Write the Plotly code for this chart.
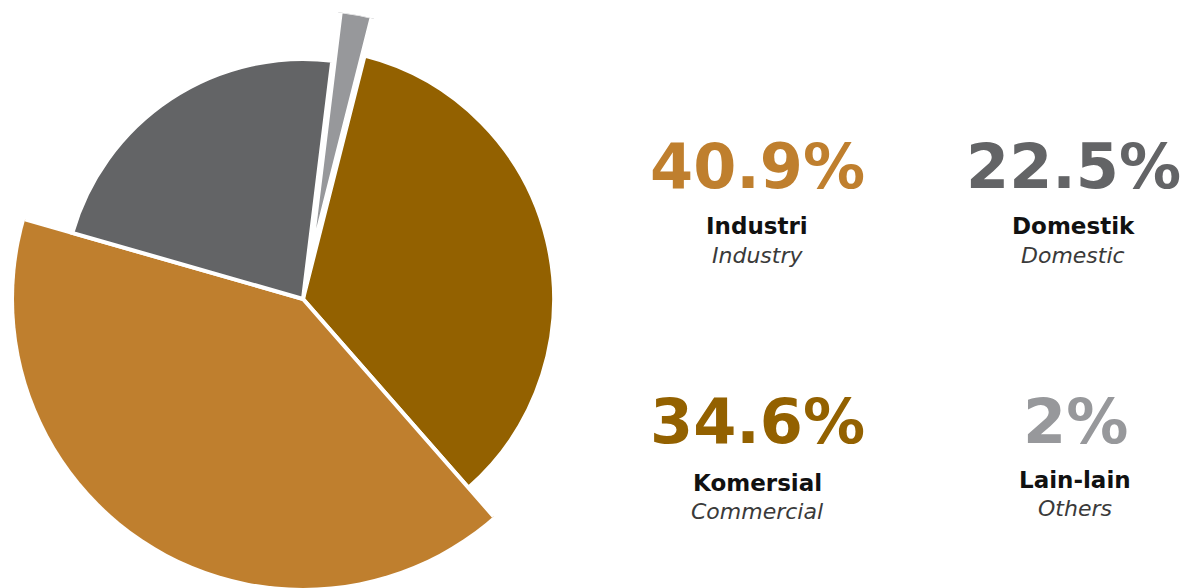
import numpy as np
import plotly.graph_objects as go

# Sector shares (percent)
sectors_id = ["Industri", "Komersial", "Domestik", "Lain-lain"]
sectors_en = ["Industry", "Commercial", "Domestic", "Others"]
shares = [40.9, 34.6, 22.5, 2]

colors = {
    "Industri": "#BF7F2E",
    "Komersial": "#936100",
    "Domestik": "#636466",
    "Lain-lain": "#97989B",
}

# Outer radius of each wedge (px on the radial axis) and the white separator width
wedge_radius = {"Industri": 292, "Komersial": 251, "Domestik": 240, "Lain-lain": 293}
wedge_line = {"Industri": 4, "Komersial": 4, "Domestik": 4, "Lain-lain": 9}

# Clockwise drawing order starting just right of 12 o'clock
order = ["Lain-lain", "Komersial", "Industri", "Domestik"]
start_deg = 7.0

share_of = dict(zip(sectors_id, shares))
vals = np.array([share_of[s] for s in order], dtype=float)
widths = vals / vals.sum() * 360.0
mids = start_deg + np.cumsum(widths) - widths / 2.0

fig = go.Figure()
fig.add_trace(go.Barpolar(
    theta=mids,
    width=widths,
    r=[wedge_radius[s] for s in order],
    marker=dict(
        color=[colors[s] for s in order],
        line=dict(color="white", width=[wedge_line[s] for s in order]),
    ),
    hovertext=[f"{s}: {share_of[s]:g}%" for s in order],
    hoverinfo="text",
    showlegend=False,
))

W, H = 1180, 588
cx, cy, R = 303, 299, 289

# Text block layout: (center x, percent y, label y, translation y) in px
blocks = {
    "Industri": (757, 166, 226, 255),
    "Domestik": (1073, 166, 226, 255),
    "Komersial": (757, 421, 483, 511),
    "Lain-lain": (1075, 421, 480, 508),
}

ann = []
for s_id, s_en, v in zip(sectors_id, sectors_en, shares):
    x, yp, yl, yt = blocks[s_id]
    ann.append(dict(x=x / W, y=1 - yp / H, text=f"{v:g}%",
                    font=dict(family="DejaVu Sans", size=62, color=colors[s_id], weight="bold")))
    ann.append(dict(x=x / W, y=1 - yl / H, text=s_id,
                    font=dict(family="DejaVu Sans", size=23, color="#111111", weight="bold")))
    ann.append(dict(x=x / W, y=1 - yt / H, text=s_en,
                    font=dict(family="DejaVu Sans", size=22, color="#3a3a3a", style="italic", weight=200)))
for a in ann:
    a.update(xref="paper", yref="paper", xanchor="center", yanchor="middle", showarrow=False)

fig.update_layout(
    width=W, height=H,
    margin=dict(l=0, r=0, t=0, b=0),
    paper_bgcolor="white",
    plot_bgcolor="white",
    polar=dict(
        domain=dict(x=[(cx - R) / W, (cx + R) / W], y=[1 - (cy + R) / H, 1 - (cy - R) / H]),
        bgcolor="rgba(0,0,0,0)",
        radialaxis=dict(visible=False, range=[0, R]),
        angularaxis=dict(visible=False, rotation=90, direction="clockwise"),
        hole=0,
    ),
    annotations=ann,
)

fig.write_html("out.html")
